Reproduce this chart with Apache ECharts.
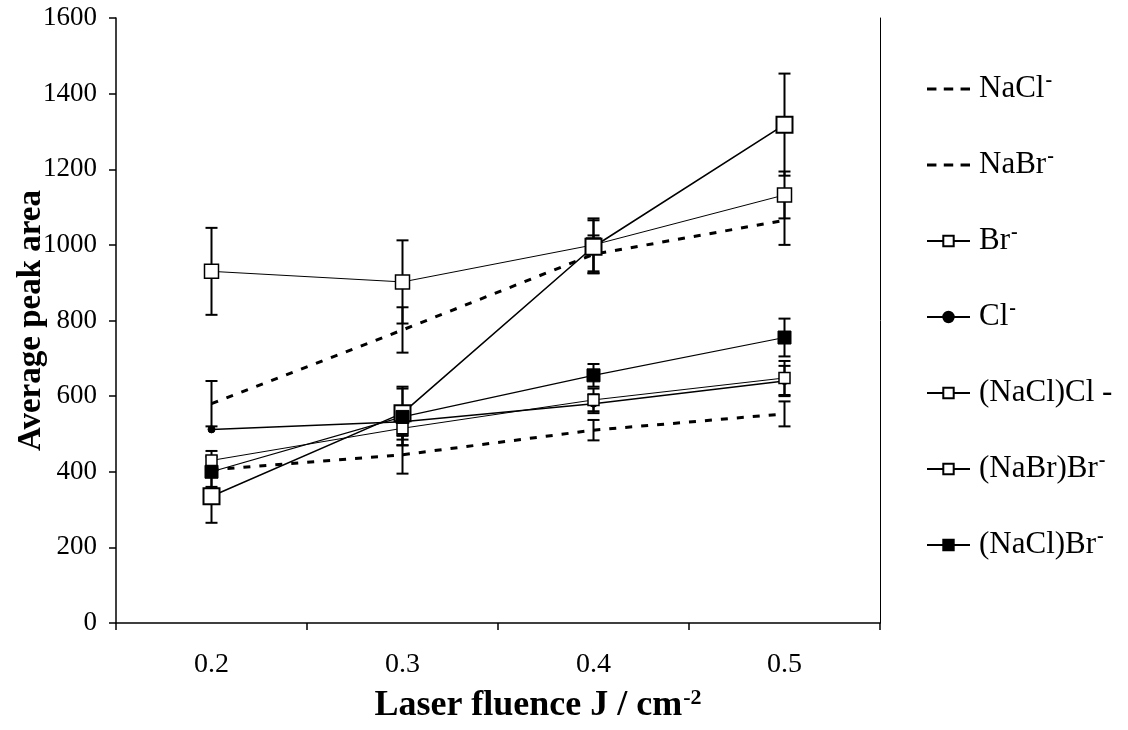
<!DOCTYPE html>
<html>
<head>
<meta charset="utf-8">
<script src="https://cdn.jsdelivr.net/npm/echarts@6/dist/echarts.min.js"></script>
<style>
html,body{margin:0;padding:0;background:#fff;}
#chart{width:1128px;height:730px;}
</style>
</head>
<body>
<div id="chart"></div>
<script>
const categories = ['0.2', '0.3', '0.4', '0.5'];
const yTicks = [0, 200, 400, 600, 800, 1000, 1200, 1400, 1600];

const naclVal = [580, 775, 975, 1065];
const naclErr = [60, 60, 50, 65];
const nabrVal = [405, 445, 510, 553];
const nabrErr = [0, 50, 27, 33];
const brVal = [930, 902, 1000, 1132];
const brErr = [115, 110, 70, 62];
const clVal = [512, 532, 580, 640];
const clErr = [0, 35, 25, 40];
const naclclVal = [335, 555, 995, 1318];
const naclclErr = [70, 70, 70, 135];
const nabrbrVal = [430, 515, 590, 648];
const nabrbrErr = [25, 45, 30, 45];
const naclbrVal = [400, 545, 655, 755];
const naclbrErr = [40, 75, 30, 50];

const names = {
  nacl: 'NaCl-', nabr: 'NaBr-', br: 'Br-', cl: 'Cl-',
  naclcl: '(NaCl)Cl -', nabrbr: '(NaBr)Br-', naclbr: '(NaCl)Br-'
};
const legendLabels = {
  'NaCl-': '{t|NaCl}{s|-}',
  'NaBr-': '{t|NaBr}{s|-}',
  'Br-': '{t|Br}{s|-}',
  'Cl-': '{t|Cl}{s|-}',
  '(NaCl)Cl -': '{t|(NaCl)Cl -}',
  '(NaBr)Br-': '{t|(NaBr)Br}{s|-}',
  '(NaCl)Br-': '{t|(NaCl)Br}{s|-}'
};
const dashIcon = 'path://M0,0h9v3h-9z M16,0h9v3h-9z M32,0h9v3h-9z';

const chart = echarts.init(document.getElementById('chart'), null, {renderer: 'canvas'});
const FONT = '"Liberation Serif", "Times New Roman", serif';

function errData(vals, errs) {
  return vals.map((v, i) => [i, v - errs[i], v + errs[i]]);
}
function errSeries(vals, errs) {
  return {
    type: 'custom',
    silent: true,
    z: 1,
    renderItem: function (params, api) {
      const i = api.value(0);
      if (api.value(2) - api.value(1) <= 0) return null;
      const lo = api.coord([i, api.value(1)]);
      const hi = api.coord([i, api.value(2)]);
      const w = 6;
      const st = {stroke: '#000', lineWidth: 2};
      return {
        type: 'group',
        children: [
          {type: 'line', shape: {x1: lo[0], y1: lo[1], x2: hi[0], y2: hi[1]}, style: st},
          {type: 'line', shape: {x1: lo[0] - w, y1: lo[1], x2: lo[0] + w, y2: lo[1]}, style: st},
          {type: 'line', shape: {x1: hi[0] - w, y1: hi[1], x2: hi[0] + w, y2: hi[1]}, style: st}
        ]
      };
    },
    data: errData(vals, errs)
  };
}

function lineSeries(name, vals, opts) {
  return Object.assign({
    name: name,
    type: 'line',
    data: vals,
    z: 3,
    animation: false,
    lineStyle: {color: '#000', width: 1.2},
    itemStyle: {color: '#fff', borderColor: '#000', borderWidth: 1.5},
    symbol: 'rect',
    symbolSize: 12
  }, opts);
}

const option = {
  backgroundColor: '#fff',
  animation: false,
  grid: {left: 116, right: 248, top: 18, bottom: 107, containLabel: false, outerBoundsMode: 'none'},
  legend: {
    orient: 'vertical',
    left: 921,
    top: 66,
    itemGap: 40,
    itemWidth: 43,
    itemHeight: 13,
    data: [
      {name: names.nacl, icon: dashIcon, itemStyle: {color: '#000'}},
      {name: names.nabr, icon: dashIcon, itemStyle: {color: '#000'}},
      names.br, names.cl, names.naclcl, names.nabrbr, names.naclbr
    ],
    formatter: function (n) { return legendLabels[n]; },
    textStyle: {
      color: '#000',
      fontFamily: FONT,
      fontSize: 31,
      lineHeight: 36,
      padding: [0, 0, 0, 4],
      rich: {
        t: {fontFamily: FONT, fontSize: 31, lineHeight: 36, color: '#000'},
        s: {fontFamily: FONT, fontSize: 20, fontWeight: 'bold', color: '#000', verticalAlign: 'top', padding: [0, 0, 14, 1]}
      }
    }
  },
  xAxis: {
    type: 'category',
    data: categories,
    boundaryGap: true,
    axisLine: {lineStyle: {color: '#000', width: 1.5}},
    axisTick: {show: true, inside: false, length: 7, lineStyle: {color: '#000', width: 1.5}},
    axisLabel: {color: '#000', fontFamily: FONT, fontSize: 28, margin: 28},
    splitLine: {show: false},
    name: '{t|Laser fluence J / cm}{s|-2}',
    nameLocation: 'middle',
    nameGap: 64,
    nameMoveOverlap: false,
    nameTextStyle: {
      padding: [0, 0, 0, 80],
      rich: {
        t: {fontFamily: FONT, fontSize: 36, fontWeight: 'bold', color: '#000'},
        s: {fontFamily: FONT, fontSize: 22, fontWeight: 'bold', color: '#000', verticalAlign: 'top', padding: [0, 0, 16, 1]}
      }
    }
  },
  yAxis: [{
    type: 'value',
    min: 0,
    max: 1600,
    interval: 200,
    axisLine: {show: true, lineStyle: {color: '#000', width: 1.5}},
    axisTick: {show: true, inside: false, length: 7, lineStyle: {color: '#000', width: 1.5}},
    axisLabel: {color: '#000', fontFamily: FONT, fontSize: 27, margin: 19,
      formatter: function (v) { return yTicks.indexOf(v) >= 0 ? String(v) : ''; }},
    splitLine: {show: false},
    name: 'Average peak area',
    nameLocation: 'middle',
    nameGap: 68,
    nameMoveOverlap: false,
    nameTextStyle: {fontFamily: FONT, fontSize: 33, fontWeight: 'bold', color: '#000'}
  }, {
    type: 'value',
    min: 0,
    max: 1600,
    interval: 200,
    position: 'right',
    axisLine: {show: true, lineStyle: {color: '#000', width: 1}},
    axisTick: {show: false},
    axisLabel: {show: false},
    splitLine: {show: false}
  }],
  series: [
    errSeries(naclVal, naclErr),
    errSeries(nabrVal, nabrErr),
    errSeries(brVal, brErr),
    errSeries(clVal, clErr),
    errSeries(naclclVal, naclclErr),
    errSeries(nabrbrVal, nabrbrErr),
    errSeries(naclbrVal, naclbrErr),
    lineSeries(names.nacl, naclVal, {symbol: 'none', lineStyle: {color: '#000', width: 3, type: [7, 9]}, itemStyle: {color: '#000'}}),
    lineSeries(names.nabr, nabrVal, {symbol: 'none', lineStyle: {color: '#000', width: 3, type: [7, 9]}, itemStyle: {color: '#000'}}),
    lineSeries(names.br, brVal, {symbolSize: 14, lineStyle: {color: '#000', width: 1}}),
    lineSeries(names.cl, clVal, {symbol: 'circle', symbolSize: 7, lineStyle: {color: '#000', width: 1.5}, itemStyle: {color: '#000', borderColor: '#000', borderWidth: 1}}),
    lineSeries(names.naclcl, naclclVal, {symbolSize: 16, lineStyle: {color: '#000', width: 1.6}, itemStyle: {color: '#fff', borderColor: '#000', borderWidth: 2}}),
    lineSeries(names.nabrbr, nabrbrVal, {symbolSize: 11, lineStyle: {color: '#000', width: 1}}),
    lineSeries(names.naclbr, naclbrVal, {symbolSize: 13, lineStyle: {color: '#000', width: 1.2}, itemStyle: {color: '#000', borderColor: '#000', borderWidth: 1}})
  ]
};
chart.setOption(option);
</script>
</body>
</html>
